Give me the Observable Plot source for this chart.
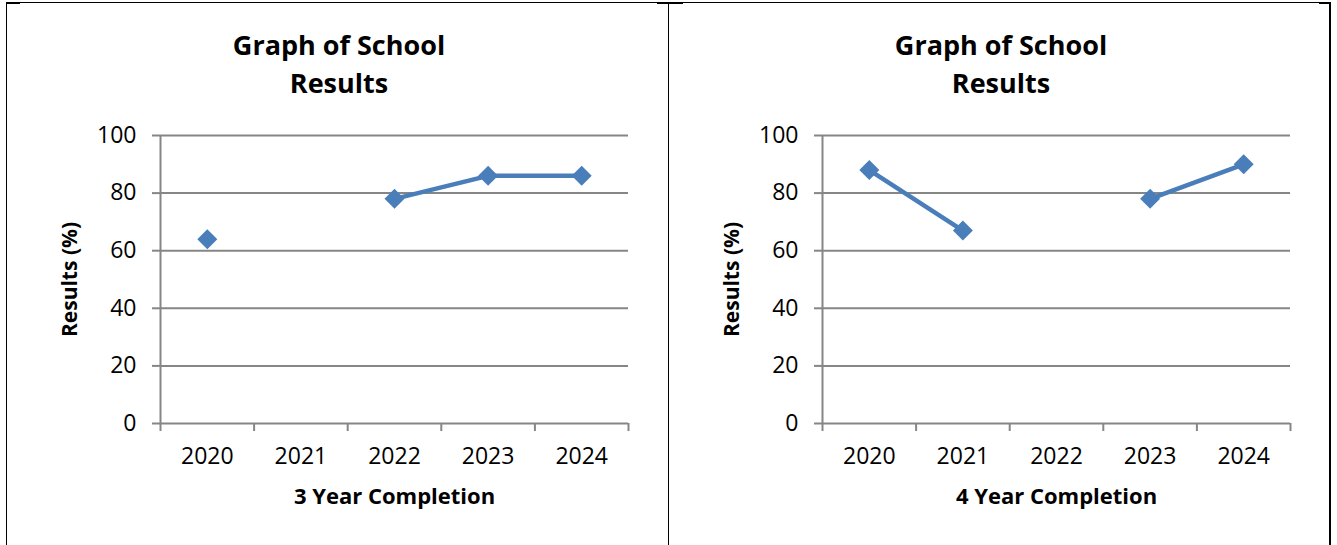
<!DOCTYPE html>
<html><head><meta charset="utf-8">
<script src="https://cdn.jsdelivr.net/npm/d3@7"></script>
<script src="https://cdn.jsdelivr.net/npm/@observablehq/plot@0.6"></script>
<style>
body{margin:0;background:#fff;font-family:"Open Sans",sans-serif;}
#page{position:relative;width:1337px;height:545px;overflow:hidden;background:#fff;}
.panel{position:absolute;top:0;width:662px;height:545px;}
.panel svg{position:absolute;left:0;top:0;}
.title{position:absolute;left:2px;width:662px;top:26px;text-align:center;font-weight:bold;font-size:27px;line-height:38px;color:#000;font-family:"Open Sans",sans-serif;}
.ln{position:absolute;background:#000;}
</style></head>
<body><div id="page"></div>
<script>
const years = [2020, 2021, 2022, 2023, 2024];
const threeYear = [64, null, 78, 86, 86];
const fourYear = [88, 67, null, 78, 90];
const yTicks = [0, 20, 40, 60, 80, 100];
const titleLines = ["Graph of School", "Results"];
const yLabel = "Results (%)";
const xLabels = ["3 Year Completion", "4 Year Completion"];
const seriesColor = "#4A7EBB";
const gridColor = "#868686";

function chart(values, xLabel) {
  const data = years.map((year, i) => ({year, value: values[i]}));
  const pts = data.filter(d => d.value != null);
  const bounds = [...years.map(y => y - 0.5), years[years.length - 1] + 0.5];
  return Plot.plot({
    width: 662, height: 545,
    marginLeft: 154, marginRight: 40, marginTop: 135, marginBottom: 122,
    style: {fontFamily: "Open Sans, sans-serif", background: "transparent", color: "#000", overflow: "visible"},
    x: {domain: [bounds[0], bounds[bounds.length - 1]], axis: null},
    y: {domain: [0, 100], axis: null},
    marks: [
      Plot.ruleY(yTicks, {stroke: gridColor, strokeWidth: 2}),
      Plot.ruleX([bounds[0]], {stroke: gridColor, strokeWidth: 2}),
      Plot.axisY({ticks: yTicks, tickSize: 8, stroke: gridColor, strokeWidth: 2, fill: "#000", fontSize: 23, tickPadding: 16, label: null}),
      Plot.axisX({ticks: bounds, tickSize: 8, stroke: gridColor, strokeWidth: 2, tickFormat: () => "", label: null}),
      Plot.axisX({ticks: years, tickSize: 0, tickPadding: 24, fill: "#000", fontSize: 23, tickFormat: d => String(d), label: null}),
      Plot.text([yLabel], {frameAnchor: "left", textAnchor: "middle", lineAnchor: "middle", rotate: -90, dx: -90, fontWeight: "bold", fontSize: 21, fill: "#000"}),
      Plot.text([xLabel], {frameAnchor: "bottom", textAnchor: "middle", lineAnchor: "middle", dy: 73, fontWeight: "bold", fontSize: 22, fill: "#000"}),
      Plot.line(data, {x: "year", y: "value", stroke: seriesColor, strokeWidth: 4.5}),
      Plot.dot(pts, {x: "year", y: "value", symbol: "diamond2", r: 9, fill: seriesColor, stroke: null})
    ]
  });
}

const page = document.getElementById("page");
function addLine(l, t, w, h) {
  const d = document.createElement("div");
  d.className = "ln";
  d.style.left = l + "px"; d.style.top = t + "px"; d.style.width = w + "px"; d.style.height = h + "px";
  page.appendChild(d);
}
[[6, threeYear, xLabels[0]], [668, fourYear, xLabels[1]]].forEach(([left, vals, lab]) => {
  const p = document.createElement("div");
  p.className = "panel";
  p.style.left = left + "px";
  p.appendChild(chart(vals, lab));
  const t = document.createElement("div");
  t.className = "title";
  t.innerHTML = titleLines.join("<br>");
  p.appendChild(t);
  page.appendChild(p);
});
// table borders
addLine(6, 2, 1323, 1);
addLine(6, 2, 14, 2);
addLine(6, 2, 1, 543);
addLine(668, 2, 1, 543);
addLine(657, 2, 26, 2);
addLine(1319, 2, 12, 2);
addLine(1329, 2, 2, 543);
</script>
</body></html>
